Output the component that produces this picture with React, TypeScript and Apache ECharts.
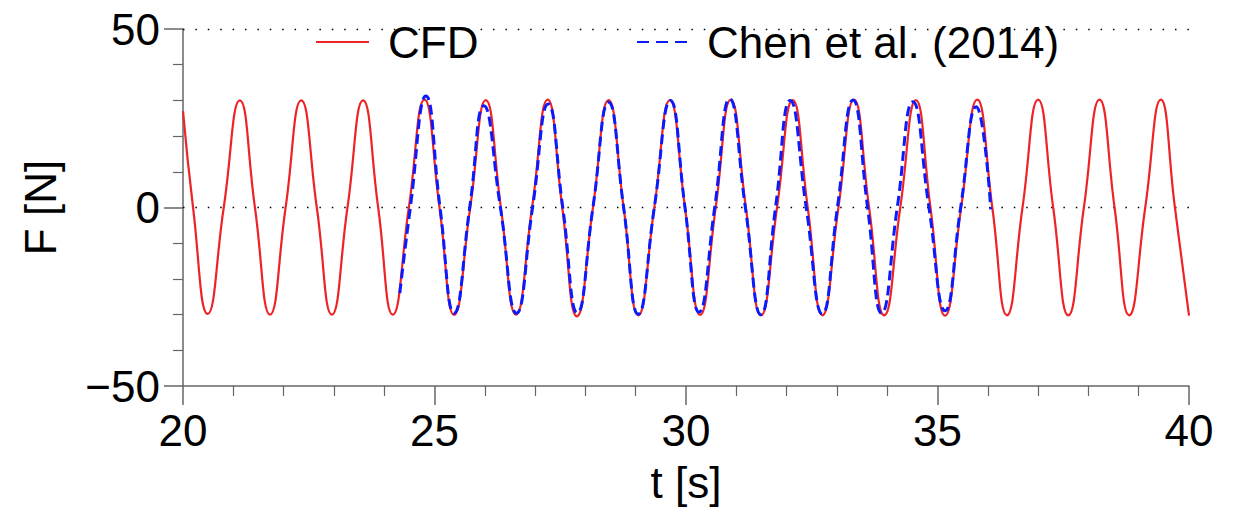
import { useEffect, useRef } from "react";
import * as echarts from "echarts";

// Time range and tick layout of the force history
const T_MIN = 20;
const T_MAX = 40;
const T_STEP = 5;
const F_MIN = -50;
const F_MAX = 50;
const F_STEP = 50;

// Dotted reference levels
const refLevels = [0, 50];

// CFD force history: extrema and zero crossings [t (s), F (N)]
const cfd: [number, number][] = [
  [20.0, 27.0], [20.2, 0], [20.49, -29.8], [20.81, 0],
  [21.13, 30.0], [21.43, 0], [21.73, -30.0], [22.04, 0],
  [22.35, 30.0], [22.66, 0], [22.96, -30.0], [23.27, 0],
  [23.58, 30.0], [23.88, 0], [24.17, -30.0], [24.49, 0],
  [24.8, 30.2], [25.1, 0], [25.39, -30.1], [25.71, 0],
  [26.02, 30.1], [26.32, 0], [26.62, -30.0], [26.94, 0],
  [27.25, 30.2], [27.54, 0], [27.83, -30.5], [28.15, 0],
  [28.46, 30.1], [28.76, 0], [29.05, -30.2], [29.37, 0],
  [29.68, 30.1], [29.98, 0], [30.28, -30.1], [30.59, 0],
  [30.89, 30.2], [31.19, 0], [31.49, -30.2], [31.81, 0],
  [32.12, 30.1], [32.42, 0], [32.71, -30.2], [33.03, 0],
  [33.34, 30.2], [33.64, 0], [33.94, -30.2], [34.26, 0],
  [34.57, 30.1], [34.86, 0], [35.15, -30.3], [35.47, 0],
  [35.79, 30.2], [36.09, 0], [36.38, -30.2], [36.69, 0],
  [37.0, 30.2], [37.3, 0], [37.6, -30.2], [37.91, 0],
  [38.22, 30.2], [38.52, 0], [38.81, -30.2], [39.13, 0],
  [39.44, 30.2], [39.72, 0], [40.0, -30.3],
];

// Chen et al. (2014) force history: extrema and zero crossings [t (s), F (N)]
const chen: [number, number][] = [
  [24.31, -24.0], [24.52, 0], [24.83, 31.2], [25.11, 0],
  [25.39, -29.6], [25.7, 0], [25.98, 28.5], [26.31, 0],
  [26.63, -29.6], [26.95, 0], [27.26, 29.0], [27.55, 0],
  [27.84, -29.5], [28.15, 0], [28.46, 29.5], [28.76, 0],
  [29.05, -29.9], [29.37, 0], [29.69, 30.0], [29.98, 0],
  [30.26, -29.3], [30.57, 0], [30.87, 30.4], [31.18, 0],
  [31.49, -30.0], [31.78, 0], [32.07, 30.0], [32.39, 0],
  [32.71, -29.8], [33.01, 0], [33.32, 30.1], [33.61, 0],
  [33.89, -29.6], [34.2, 0], [34.51, 29.6], [34.83, 0],
  [35.15, -28.9], [35.46, 0], [35.77, 28.2], [36.06, -0.5],
];

const FONT = "'Liberation Sans', Arial, Helvetica, sans-serif";
const FONT_SIZE = 44;
const AXIS_GREY = "#666666";
const RED = "#ee2326";
const BLUE = "#0a1cff";

export default function App() {
  const ref = useRef<HTMLDivElement>(null);

  useEffect(() => {
    const chart = echarts.init(ref.current!, null, { renderer: "svg" });

    const axisCommon = {
      axisLine: { show: true, onZero: false, lineStyle: { color: AXIS_GREY, width: 1.5 } },
      axisTick: { show: true, inside: false, length: 19, lineStyle: { color: AXIS_GREY, width: 1.5 } },
      minorTick: { show: true, splitNumber: 5, length: 10, lineStyle: { color: AXIS_GREY, width: 1.2 } },
      splitLine: { show: false },
      minorSplitLine: { show: false },
    };

    const legendCommon = {
      top: 20,
      padding: 0,
      itemHeight: 14,
      itemStyle: { opacity: 0, borderWidth: 0 },
    };

    chart.setOption({
      animation: false,
      backgroundColor: "#ffffff",
      textStyle: { fontFamily: FONT },
      grid: { left: 183, right: 58, top: 29, bottom: 122, containLabel: false },
      legend: [
        {
          ...legendCommon,
          data: ["CFD"],
          left: 315,
          itemWidth: 53,
          textStyle: { fontSize: FONT_SIZE, color: "#000", fontFamily: FONT, padding: [0, 0, 0, 14] },
        },
        {
          ...legendCommon,
          data: ["Chen et al. (2014)"],
          left: 636,
          itemWidth: 52,
          lineStyle: { type: [12, 7] },
          textStyle: { fontSize: FONT_SIZE, color: "#000", fontFamily: FONT, padding: [0, 0, 0, 13] },
        },
      ],
      xAxis: {
        type: "value",
        min: T_MIN,
        max: T_MAX,
        interval: T_STEP,
        name: "t [s]",
        nameLocation: "middle",
        nameGap: 74,
        nameTextStyle: { fontSize: FONT_SIZE, color: "#000", fontFamily: FONT },
        axisLabel: { fontSize: FONT_SIZE, color: "#000", margin: 22, fontFamily: FONT },
        ...axisCommon,
      },
      yAxis: {
        type: "value",
        min: F_MIN,
        max: F_MAX,
        interval: F_STEP,
        name: "F [N]",
        nameLocation: "middle",
        nameGap: 121,
        nameTextStyle: { fontSize: FONT_SIZE, color: "#000", fontFamily: FONT },
        axisLabel: {
          fontSize: FONT_SIZE,
          color: "#000",
          margin: 23,
          fontFamily: FONT,
          formatter: (v: number) => (v < 0 ? "\u2212" + Math.abs(v) : String(v)),
        },
        ...axisCommon,
      },
      series: [
        {
          name: "CFD",
          type: "line",
          data: cfd,
          smooth: 0.5,
          symbol: "none",
          z: 3,
          lineStyle: { color: RED, width: 2.2, type: "solid" },
          itemStyle: { color: RED },
          markLine: {
            silent: true,
            symbol: ["none", "none"],
            label: { show: false },
            lineStyle: { color: "#000", width: 1.4, type: [1.5, 10.9] },
            data: refLevels.map((y) => ({ yAxis: y })),
            z: 1,
          },
        },
        {
          name: "Chen et al. (2014)",
          type: "line",
          data: chen,
          smooth: 0.5,
          symbol: "none",
          z: 4,
          lineStyle: { color: BLUE, width: 3, type: [10, 5] },
          itemStyle: { color: BLUE },
        },
      ],
    });

    return () => chart.dispose();
  }, []);

  return (
    <div
      ref={ref}
      style={{ position: "absolute", left: 0, top: 0, width: 1247, height: 509, background: "#fff" }}
    />
  );
}
